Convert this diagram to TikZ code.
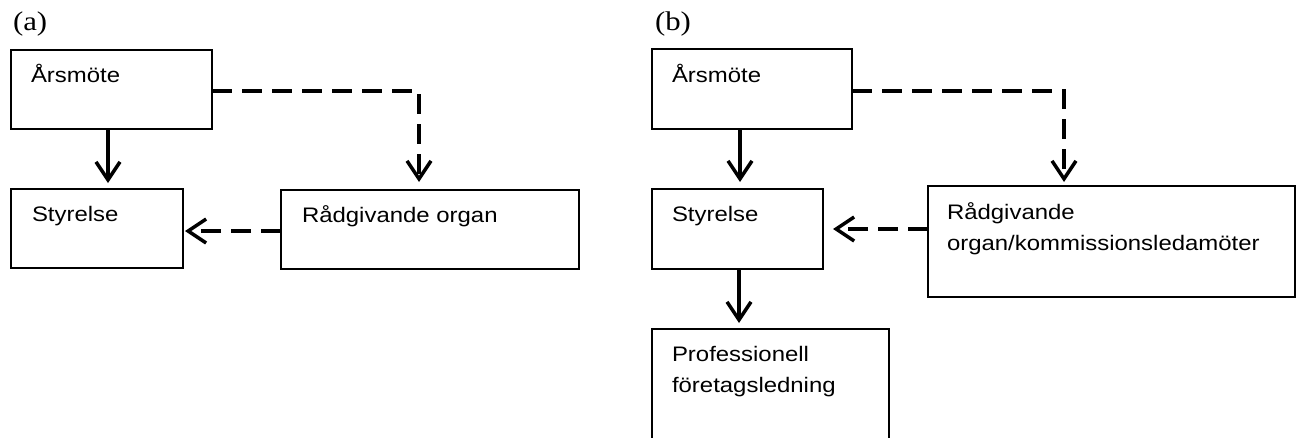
\documentclass[tikz,border=0pt]{standalone}
\usepackage{fontspec}
\setmainfont{Liberation Sans}[FakeStretch=1.14]
\newfontfamily\tagfont{Liberation Serif}[FakeStretch=1.14]
\usetikzlibrary{arrows.meta}

\begin{document}
\begin{tikzpicture}[x=1pt, y=-1pt,
  box/.style={draw, line width=1.8pt, inner sep=0pt, outer sep=0pt, anchor=north west},
  txt/.style={inner sep=0pt, outer sep=0pt, anchor=base west, align=left,
    font=\fontsize{21}{31.6}\selectfont},
  tag/.style={inner sep=0pt, outer sep=0pt, anchor=base west,
    font=\tagfont\fontsize{27}{32}\selectfont},
  conn/.style={line width=3.5pt, line join=miter,
    -{Straight Barb[length=18pt, width=24pt]}},
  link/.style={conn, dash pattern=on 20pt off 10pt}]

\clip (0,0) rectangle (1296,437);
\fill[white] (0,0) rectangle (1296,437);

% ---------- panel (a) ----------
\node[tag] (ta) at (13,30) {(a)};

\node[box, minimum width=201pt, minimum height=79pt] (A1) at (11,50) {};
\node[box, minimum width=172pt, minimum height=79pt] (S1) at (11,189) {};
\node[box, minimum width=298pt, minimum height=79pt] (R1) at (281,190) {};

\node[txt] (tA1) at (31,82) {Årsmöte};
\node[txt] (tS1) at (32,221) {Styrelse};
\node[txt] (tR1) at (302,222) {Rådgivande organ};

\coordinate (x1) at (108,0);
\coordinate (c1) at (419,91);
\coordinate (y1) at (0,231);

\draw[conn, shorten >=6pt] (A1.south -| x1) -- (S1.north -| x1);
\draw[link, shorten >=8pt] (A1.east |- c1) -- (c1) -- (c1 |- R1.north);
\draw[link, shorten >=2pt] (R1.west |- y1) -- (S1.east |- y1);

% ---------- panel (b) ----------
\node[tag] (tb) at (655,30) {(b)};

\node[box, minimum width=200pt, minimum height=80pt] (A2) at (652,49) {};
\node[box, minimum width=171pt, minimum height=80pt] (S2) at (652,189) {};
\node[box, minimum width=367pt, minimum height=111pt] (R2) at (928,186) {};
\node[box, minimum width=237pt, minimum height=130pt] (P2) at (652,329) {};

\node[txt] (tA2) at (672,82) {Årsmöte};
\node[txt] (tS2) at (672,221) {Styrelse};
\node[txt, text width=345pt] (tR2) at (947,219) {Rådgivande\\organ/kommissionsledamöter};
\node[txt, text width=220pt] (tP2) at (672,361) {Professionell\\företagsledning};

\coordinate (x2) at (740,0);
\coordinate (x3) at (739,0);
\coordinate (c2) at (1064,91);
\coordinate (y2) at (0,229);

\draw[conn, shorten >=7pt] (A2.south -| x2) -- (S2.north -| x2);
\draw[link, shorten >=4pt] (A2.east |- c2) -- (c2) -- (c2 |- R2.north);
\draw[link, shorten >=10pt] (R2.west |- y2) -- (S2.east |- y2);
\draw[conn, shorten >=6pt] (S2.south -| x3) -- (P2.north -| x3);
\end{tikzpicture}
\end{document}
